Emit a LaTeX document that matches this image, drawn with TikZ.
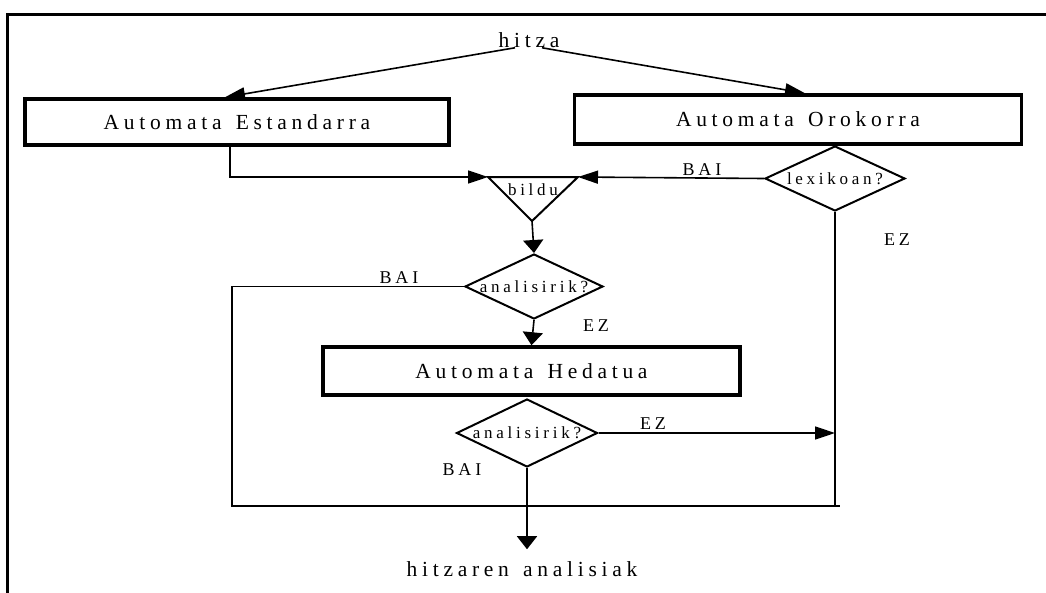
\documentclass[tikz,border=0pt]{standalone}
\usepackage{fontspec}
\setmainfont{Liberation Serif}[LetterSpace=22,WordSpace=1.4]
\usetikzlibrary{shapes.geometric,arrows.meta}
\tikzset{
    nodebase/.style={ % testu guztien oinarria
        inner sep=0pt,
        align=center,
        font=\fontsize{21.5}{25}\selectfont
    },
    box_a/.style={ % automaten kutxak
        nodebase,
        draw,
        line width=3.5pt,
        shape=rectangle
    },
    decision/.style={ % galdera erronboak
        nodebase,
        draw,
        line width=2pt,
        shape=diamond
    },
    question/.style={ % erronboetako testua
        nodebase,
        font=\fontsize{17}{20}\selectfont
    },
    answer/.style={ % BAI / EZ etiketak
        nodebase,
        font=\fontsize{18}{21}\selectfont
    },
    line_a/.style={line width=1.6pt}, % lerro arruntak
    harrow/.style={line_a, -{Triangle[length=20pt,width=13pt]}}, % gezi horizontalak
    varrow/.style={line_a, -{Triangle[length=13pt,width=20pt]}} % gezi bertikalak
}

\begin{document}
\begin{tikzpicture}[x=1pt,y=-1pt]

        \useasboundingbox (0,0) rectangle (1046,592);
        \draw[line width=3pt] (7,600) -- (7,14) -- (1050,14);

        \node [nodebase] (hitza) at (529,40) {hitza};

        \node [box_a, minimum width=424pt, minimum height=46pt] (esta) at (237,122) {Automata Estandarra};
        \node [box_a, minimum width=447pt, minimum height=49pt] (oro) at (798,119.5) {Automata Orokorra};
        \node [decision, minimum width=140pt, minimum height=65pt, label={[question]center:lexikoan?}] (lex) at (835,178.5) {};

        \node [question] (bildu) at (533,190) {bildu};
        \coordinate (bilduL) at (488,177);
        \coordinate (bilduR) at (578,177);
        \coordinate (bilduB) at (532,221);
        \draw[line width=2pt, line join=miter] (bilduL) -- (bilduR) -- (bilduB) -- cycle;

        \node [decision, minimum width=138pt, minimum height=65pt, label={[question]center:analisirik?}] (dec1) at (534,286.5) {};
        \node [box_a, minimum width=417pt, minimum height=48pt] (heda) at (531.5,371) {Automata Hedatua};
        \node [decision, minimum width=141pt, minimum height=68pt, label={[question]center:analisirik?}] (dec2) at (527,433) {};

        \node [nodebase] (emaitza) at (522,569) {hitzaren analisiak};

        \coordinate (loopL) at (232,506);
        \coordinate (loopR) at (840,506);

        \node [answer] (bai1) at (702,170) {BAI};
        \node [answer] (ez1) at (897,240) {EZ};
        \node [answer] (bai2) at (399,278) {BAI};
        \node [answer] (ez2) at (596,326) {EZ};
        \node [answer] (ez3) at (653,424) {EZ};
        \node [answer] (bai3) at (462,470) {BAI};

        \draw[harrow] ([xshift=-14pt]hitza.south) -- ([xshift=-12pt]esta.north);
        \draw[harrow] ([xshift=13pt]hitza.south) -- ([xshift=7pt]oro.north);
        \draw[harrow] ([xshift=-7pt]esta.south) |- (bilduL);
        \draw[harrow] (lex.west) -- (bilduR);
        \draw[varrow] (bilduB) -- (dec1.north);
        \draw[varrow] (dec1.south) -- (heda.north);
        \draw[line_a] (dec1.west) -| (loopL) -- (loopR);
        \draw[line_a] (lex.south) -- (lex.south |- loopR);
        \draw[harrow] (dec2.east) -- (dec2.east -| lex.south);
        \draw[varrow, shorten >=12pt] (dec2.south) -- (dec2.south |- emaitza.north);

\end{tikzpicture}
\end{document}
